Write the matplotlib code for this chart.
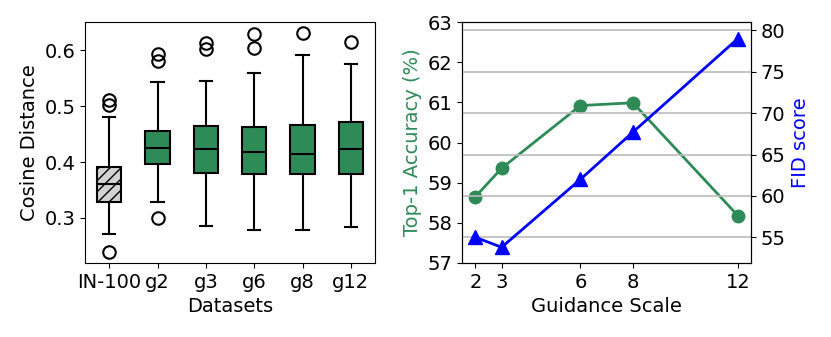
import matplotlib
matplotlib.use("Agg")
import matplotlib.pyplot as plt

# left panel: box statistics
datasets = ["IN-100", "g2", "g3", "g6", "g8", "g12"]
q1 = [0.329, 0.396, 0.380, 0.378, 0.379, 0.379]
med = [0.360, 0.425, 0.423, 0.418, 0.414, 0.423]
q3 = [0.391, 0.455, 0.464, 0.462, 0.467, 0.471]
whislo = [0.271, 0.329, 0.285, 0.279, 0.279, 0.284]
whishi = [0.481, 0.543, 0.546, 0.559, 0.592, 0.576]
fliers = [[0.238, 0.503, 0.511], [0.300, 0.582, 0.593], [0.602, 0.614],
          [0.604, 0.629], [0.631], [0.615]]

# right panel
guidance = [2, 3, 6, 8, 12]
top1_acc = [58.65, 59.36, 60.92, 60.99, 58.18]
fid = [55.0, 53.8, 62.0, 67.7, 79.0]

green = "#2E8B57"
plt.rcParams["font.size"] = 14

fig = plt.figure(figsize=(8.31, 3.37), dpi=100)
ax = fig.add_axes([0.1023, 0.2196, 0.349, 0.715])

stats = []
for i, name in enumerate(datasets):
    stats.append(dict(label=name, q1=q1[i], med=med[i], q3=q3[i],
                      whislo=whislo[i], whishi=whishi[i], fliers=fliers[i]))
bp = ax.bxp(stats, patch_artist=True, widths=0.5,
            boxprops=dict(linewidth=1.5, edgecolor="black"),
            medianprops=dict(color="black", linewidth=1.5),
            whiskerprops=dict(linewidth=1.5),
            capprops=dict(linewidth=1.5),
            flierprops=dict(marker="o", markersize=9, markerfacecolor="none",
                            markeredgecolor="black", markeredgewidth=1.5))
for i, box in enumerate(bp["boxes"]):
    if i == 0:
        box.set_facecolor("lightgray")
        box.set_hatch("///")
    else:
        box.set_facecolor(green)
ax.set_ylim(0.219, 0.651)
ax.set_yticks([0.3, 0.4, 0.5, 0.6])
ax.set_xlabel("Datasets")
ax.set_ylabel("Cosine Distance")

# accuracy / FID vs guidance scale
ax1 = fig.add_axes([0.5563, 0.2196, 0.3474, 0.715])
ax2 = ax1.twinx()
ax2.grid(True, axis="y", color="#bbbbbb", linewidth=1.2)
ax1.plot(guidance, top1_acc, color=green, marker="o", markersize=9, linewidth=2)
ax2.plot(guidance, fid, color="blue", marker="^", markersize=10, linewidth=2)
ax1.set_ylim(57, 63)
ax1.set_xlim(1.5, 12.5)
ax1.set_xticks(guidance)
ax2.set_ylim(51.9, 81)
ax2.set_yticks([55, 60, 65, 70, 75, 80])
ax1.set_xlabel("Guidance Scale")
ax1.set_ylabel("Top-1 Accuracy (%)", color=green)
ax2.set_ylabel("FID score", color="blue")

fig.savefig("out.png")
